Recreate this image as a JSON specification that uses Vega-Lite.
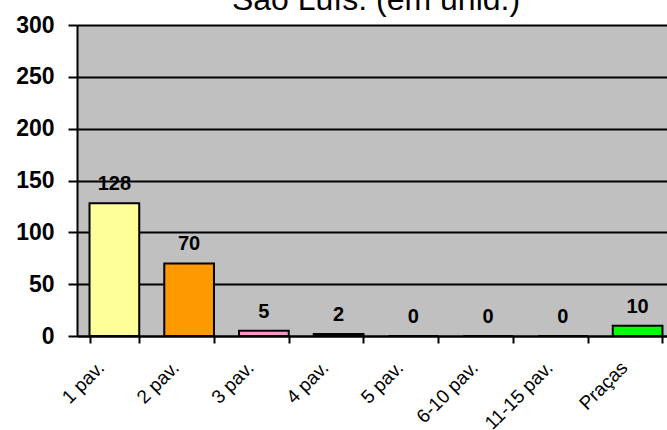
{
  "$schema": "https://vega.github.io/schema/vega-lite/v6.json",
  "autosize": "none",
  "padding": {"left": 77, "top": 25, "right": 0, "bottom": 94},
  "width": 598,
  "height": 311,
  "background": "white",
  "title": {
    "text": "São Luís: (em unid.)",
    "font": "Liberation Sans",
    "fontSize": 32,
    "fontWeight": "normal",
    "color": "black",
    "anchor": "middle",
    "frame": "group",
    "offset": -3
  },
  "config": {
    "view": {"fill": "#C0C0C0", "stroke": null},
    "font": "Liberation Sans"
  },
  "data": {
    "values": [
      {"cat": "1 pav.", "value": 128},
      {"cat": "2 pav.", "value": 70},
      {"cat": "3 pav.", "value": 5},
      {"cat": "4 pav.", "value": 2},
      {"cat": "5 pav.", "value": 0},
      {"cat": "6-10 pav.", "value": 0},
      {"cat": "11-15 pav.", "value": 0},
      {"cat": "Praças", "value": 10}
    ]
  },
  "encoding": {
    "x": {
      "field": "cat",
      "type": "nominal",
      "sort": null,
      "scale": {"paddingInner": 0.335, "paddingOuter": 0.1675},
      "axis": {
        "title": null,
        "labelAngle": -45,
        "labelAlign": "right",
        "labelBaseline": "top",
        "labelFont": "Liberation Sans",
        "labelFontSize": 19,
        "labelColor": "black",
        "labelOffset": -20,
        "labelPadding": 15,
        "domainColor": "black",
        "domainWidth": 2,
        "tickColor": "black",
        "tickWidth": 2,
        "tickSize": 7,
        "tickBand": "extent",
        "grid": false
      }
    },
    "y": {
      "field": "value",
      "type": "quantitative",
      "scale": {"domain": [0, 300], "nice": false},
      "axis": {
        "title": null,
        "values": [0, 50, 100, 150, 200, 250, 300],
        "labelFont": "Liberation Sans",
        "labelFontSize": 23,
        "labelFontWeight": "bold",
        "labelColor": "black",
        "labelPadding": 14,
        "domainColor": "black",
        "domainWidth": 2,
        "tickColor": "black",
        "tickWidth": 2,
        "tickSize": 9,
        "grid": true,
        "gridColor": "black",
        "gridWidth": 2,
        "gridOpacity": 1
      }
    }
  },
  "layer": [
    {
      "mark": {"type": "bar", "stroke": "black", "strokeWidth": 2},
      "encoding": {
        "color": {
          "field": "cat",
          "type": "nominal",
          "legend": null,
          "scale": {
            "domain": ["1 pav.", "2 pav.", "3 pav.", "4 pav.", "5 pav.", "6-10 pav.", "11-15 pav.", "Praças"],
            "range": ["#FFFF99", "#FF9900", "#FF99CC", "#9999FF", "#99CCFF", "#CC99FF", "#FFCC99", "#00FF00"]
          }
        }
      }
    },
    {
      "mark": {
        "type": "text",
        "font": "Liberation Sans",
        "fontSize": 20,
        "fontWeight": "bold",
        "color": "black",
        "baseline": "alphabetic",
        "dy": -13
      },
      "encoding": {"text": {"field": "value", "type": "quantitative"}}
    }
  ]
}
